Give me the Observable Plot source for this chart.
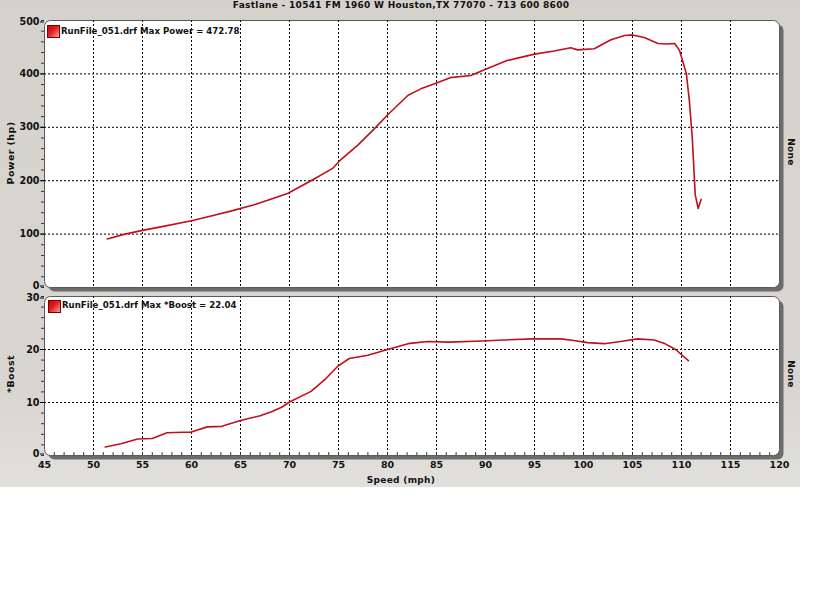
<!DOCTYPE html>
<html>
<head>
<meta charset="utf-8">
<script src="https://cdn.jsdelivr.net/npm/d3@7"></script>
<script src="https://cdn.jsdelivr.net/npm/@observablehq/plot@0.6"></script>
<style>
  html, body { margin: 0; padding: 0; background: #ffffff; }
  #wrap { position: relative; width: 820px; height: 615px; overflow: hidden; background: #ffffff; font-family: "DejaVu Sans", Verdana, sans-serif; }
  #bg { position: absolute; left: 0; top: 0; width: 800px; height: 487px;
        background: linear-gradient(to bottom, #d5d2cc 0%, #d9d6d1 80%, #e2e0dc 100%); }
  .abs { position: absolute; white-space: nowrap; font-weight: bold; color: #111; }
  .plot { position: absolute; left: 0; }
  .swatch { position: absolute; width: 11px; height: 11px; border: 1px solid #7a0000;
            background: linear-gradient(135deg, #d00000 0%, #e02020 45%, #f4a0a0 100%); }
</style>
</head>
<body>
<div id="wrap">
  <div id="bg"></div>
</div>
<script>
// ---------- data ----------
const chartTitle = "Fastlane - 10541 FM 1960 W Houston,TX 77070 - 713 600 8600";
const xTitle = "Speed (mph)";
const powerTitle = "Power (hp)";
const boostTitle = "*Boost";
const rightTitle = "None";
const powerLegend = "RunFile_051.drf Max Power = 472.78";
const boostLegend = "RunFile_051.drf Max *Boost = 22.04";

const powerSpeed = [51.4, 53, 55, 57, 60, 62, 64, 66.4, 68, 69.8, 72.2, 74.4, 75.1, 77, 78.7, 80, 82.1, 83.4, 85, 86.4, 88.5, 90.2, 92.2, 95, 97, 98.7, 99.4, 101.1, 102.8, 104.2, 105, 106.2, 107.6, 108.5, 109.3, 109.8, 110.5, 110.8, 111.1, 111.4, 111.7, 112.0];
const powerHp    = [91, 99, 107, 114, 125, 134, 143, 155, 165, 176, 200, 223, 237, 267, 298, 323, 360, 372, 383, 393, 397, 410, 425, 437, 443, 449, 445, 447, 464, 472, 473, 468, 457, 456, 457, 444, 400, 350, 280, 174, 148, 165];

const boostSpeed = [51.2, 52.8, 54.5, 56, 57.5, 59.2, 59.9, 61.6, 63.1, 65, 67, 68.1, 69.2, 70, 72.2, 73.6, 74.9, 76.1, 78, 80, 82.1, 84.1, 86.2, 89.6, 91.9, 94.9, 97.7, 99, 100.4, 102.1, 103.8, 105.5, 107.2, 108.2, 109.4, 110.7];
const boostPsi   = [1.6, 2.2, 3.1, 3.2, 4.3, 4.4, 4.4, 5.4, 5.5, 6.6, 7.5, 8.2, 9.1, 10.1, 12.1, 14.3, 16.8, 18.3, 18.9, 20.0, 21.1, 21.5, 21.4, 21.6, 21.8, 22.0, 22.0, 21.7, 21.3, 21.1, 21.5, 22.0, 21.8, 21.2, 20.0, 17.9];

const speedTicks = [45, 50, 55, 60, 65, 70, 75, 80, 85, 90, 95, 100, 105, 110, 115, 120];
const speedGrid = [50, 55, 60, 65, 70, 75, 80, 85, 90, 95, 100, 105, 110, 115];
const speedMinor = d3.range(46, 120, 1);
const powerTicks = [0, 100, 200, 300, 400, 500];
const powerGrid = [100, 200, 300, 400];
const powerMinor = d3.range(0, 501, 20);
const boostTicks = [0, 10, 20, 30];
const boostGrid = [10, 20];
const boostMinor = d3.range(0, 31, 2);

const powerData = powerSpeed.map((s, i) => ({speed: s, value: powerHp[i]}));
const boostData = boostSpeed.map((s, i) => ({speed: s, value: boostPsi[i]}));

// ---------- style ----------
const lineColor = "#c0101c";
const font = "DejaVu Sans";
const wrap = document.getElementById("wrap");

function panel({data, yDomain, yTicks, yGrid, yMinor, height, marginTop, marginBottom, showX}) {
  const lo = yDomain[0], hi = yDomain[1];
  const labelStyle = {tickSize: 4, tickPadding: 1, fontSize: 9.6, fontWeight: "bold", fill: "#111", label: null};
  const marks = [
    Plot.frame({fill: "#6c6c6c", rx: 6, dx: 4, dy: 4}),
    Plot.frame({fill: "white", stroke: "#5a5a5a", rx: 6}),
    Plot.gridX({ticks: speedGrid, stroke: "#000", strokeOpacity: 1, strokeDasharray: "2,2", strokeWidth: 1}),
    Plot.gridY({ticks: yGrid, stroke: "#000", strokeOpacity: 1, strokeDasharray: "2,2", strokeWidth: 1}),
    Plot.axisY({ticks: yMinor, tickSize: 3, text: null, stroke: "#333", label: null}),
    // bottom and top labels nudged so adjacent panels' end labels do not collide
    Plot.axisY({...labelStyle, ticks: yTicks.filter(t => t !== lo && t !== hi)}),
    Plot.axisY({...labelStyle, ticks: [lo], dy: -1.5}),
    Plot.axisY({...labelStyle, ticks: [hi], dy: 1.5}),
    Plot.lineY(data, {x: "speed", y: "value", stroke: lineColor, strokeWidth: 1.6, curve: "linear"})
  ];
  if (showX) {
    marks.push(Plot.ruleX(speedMinor, {x: d => d, y1: lo, y2: lo + (hi - lo) * 0.018, stroke: "#333"}));
    marks.push(Plot.axisX({ticks: speedTicks, tickSize: 0, tickPadding: 6, fontSize: 9.5, fontWeight: "bold", fill: "#111", label: null}));
  } else {
    marks.push(Plot.axisX({ticks: [], label: null}));
  }
  return Plot.plot({
    width: 800, height, marginLeft: 44, marginRight: 21, marginTop, marginBottom,
    x: {domain: [45, 120]},
    y: {domain: yDomain},
    style: {background: "transparent", fontFamily: font, overflow: "visible"},
    marks
  });
}

const p1 = panel({data: powerData, yDomain: [0, 500], yTicks: powerTicks, yGrid: powerGrid, yMinor: powerMinor,
                  height: 290, marginTop: 20, marginBottom: 3, showX: false});
p1.classList.add("plot"); p1.style.top = "0px";
wrap.appendChild(p1);

const p2 = panel({data: boostData, yDomain: [0, 30], yTicks: boostTicks, yGrid: boostGrid, yMinor: boostMinor,
                  height: 197, marginTop: 6, marginBottom: 32, showX: true});
p2.classList.add("plot"); p2.style.top = "290px";
wrap.appendChild(p2);

// ---------- text overlays ----------
function addText(txt, css) {
  const d = document.createElement("div");
  d.className = "abs";
  d.textContent = txt;
  Object.assign(d.style, css);
  wrap.appendChild(d);
  return d;
}
function addSwatch(left, top) {
  const s = document.createElement("div");
  s.className = "swatch";
  s.style.left = left + "px"; s.style.top = top + "px";
  wrap.appendChild(s);
}

addText(chartTitle, {left: "401px", top: "0px", transform: "translateX(-50%)", fontSize: "9px", letterSpacing: "0.3px", lineHeight: "11px"});
addText(xTitle, {left: "401px", top: "475px", transform: "translateX(-50%)", fontSize: "9px", letterSpacing: "0.3px", lineHeight: "11px"});
addText(powerTitle, {left: "10px", top: "153px", transform: "translate(-50%,-50%) rotate(-90deg)", fontSize: "9.5px", letterSpacing: "0.4px", lineHeight: "11px"});
addText(boostTitle, {left: "10px", top: "374px", transform: "translate(-50%,-50%) rotate(-90deg)", fontSize: "9.5px", letterSpacing: "0.4px", lineHeight: "11px"});
addText(rightTitle, {left: "790px", top: "152px", transform: "translate(-50%,-50%) rotate(90deg)", fontSize: "9px", letterSpacing: "0.3px", lineHeight: "11px"});
addText(rightTitle, {left: "790px", top: "374px", transform: "translate(-50%,-50%) rotate(90deg)", fontSize: "9px", letterSpacing: "0.3px", lineHeight: "11px"});

addSwatch(47, 25);
addText(powerLegend, {left: "61px", top: "26px", fontSize: "8.6px", lineHeight: "11px"});
addSwatch(48, 300);
addText(boostLegend, {left: "62px", top: "300px", fontSize: "8.6px", lineHeight: "11px"});
</script>
</body>
</html>
